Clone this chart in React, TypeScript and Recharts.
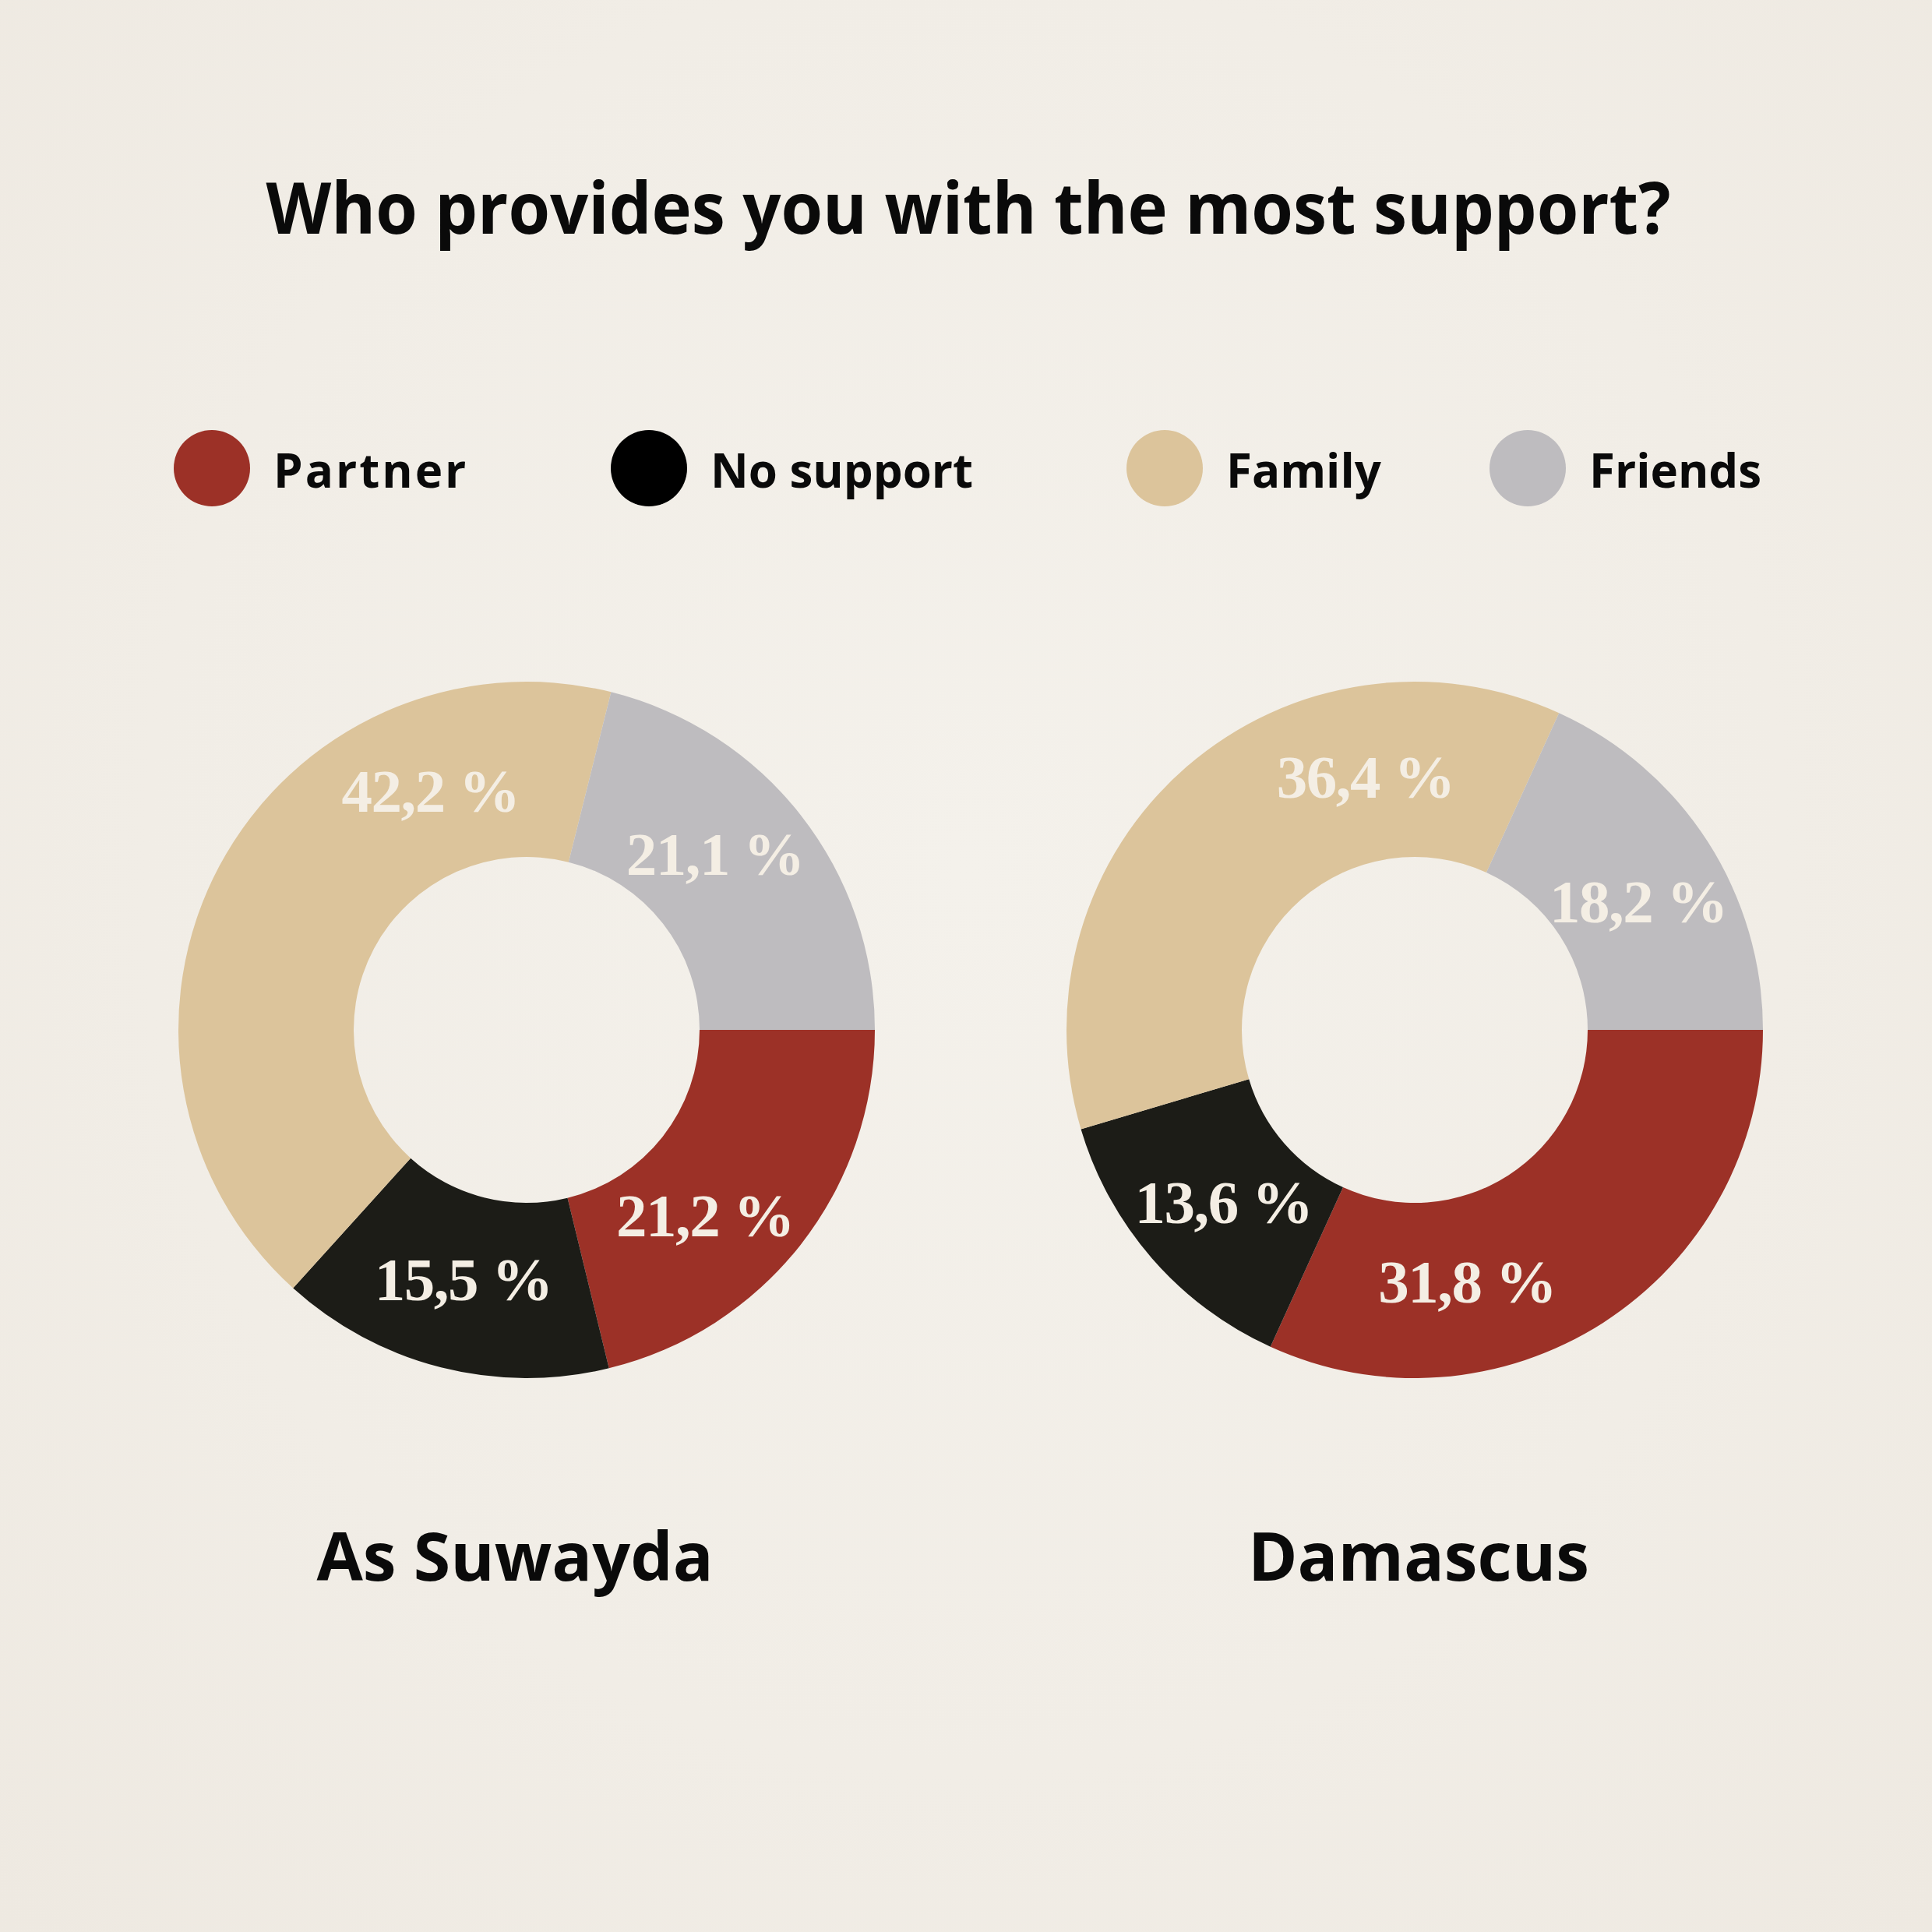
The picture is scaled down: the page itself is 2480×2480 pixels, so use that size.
import { PieChart, Pie, Cell } from 'recharts'

// categories and colours
const categories = ['Partner', 'No support', 'Family', 'Friends']
const colors = ['#9c3127', '#1c1c17', '#dcc49b', '#bebcbf']

// shares in percent, same order as categories
const suwayda = [21.2, 15.5, 42.2, 21.1]
const damascus = [31.8, 13.6, 36.4, 18.2]

const cities = ['As Suwayda', 'Damascus']

// labels in the source are not exactly at slice middles: nudge in degrees
const suwaydaNudge = [-8, 0, -40, 5]
const damascusNudge = [-21, 1, -30, -3]

const W = 2480
const H = 2480
const SANS = '"Open Sans", "Noto Sans", sans-serif'
const SERIF = '"Liberation Serif", "DejaVu Serif", serif'
const RAD = Math.PI / 180

const toRows = (values: number[]) =>
  categories.map((name, i) => ({ name, value: values[i] }))

function makeLabel(nudge: number[]) {
  return (props: any) => {
    const { cx, cy, midAngle, innerRadius, outerRadius, index, value } = props
    const r = (innerRadius + outerRadius) / 2 - 4
    const a = (midAngle + nudge[index]) * RAD
    const x = cx + r * Math.cos(a)
    const y = cy - r * Math.sin(a)
    return (
      <text
        x={x}
        y={y}
        textAnchor="middle"
        dominantBaseline="central"
        fill="#f4eee4"
        fontFamily={SERIF}
        fontWeight={700}
        fontSize={79}
        letterSpacing={-1.5}
      >
        {value.toFixed(1).replace('.', ',')} %
      </text>
    )
  }
}

const legendX = [272, 833, 1495, 1961]

export default function App() {
  return (
    <div
      style={{
        position: 'absolute',
        left: 0,
        top: 0,
        width: W,
        height: H,
        background: 'radial-gradient(ellipse at 50% 45%, #f4f1eb 0%, #f1ede6 60%, #eee9e1 100%)',
      }}
    >
      <PieChart width={W} height={H} margin={{ top: 0, right: 0, bottom: 0, left: 0 }}>
        <Pie
          data={toRows(suwayda)}
          dataKey="value"
          cx={676}
          cy={1322}
          innerRadius={222}
          outerRadius={447}
          startAngle={0}
          endAngle={-360}
          stroke="none"
          labelLine={false}
          label={makeLabel(suwaydaNudge)}
          isAnimationActive={false}
        >
          {categories.map((c, i) => (
            <Cell key={c} fill={colors[i]} />
          ))}
        </Pie>
        <Pie
          data={toRows(damascus)}
          dataKey="value"
          cx={1816}
          cy={1322}
          innerRadius={222}
          outerRadius={447}
          startAngle={0}
          endAngle={-360}
          stroke="none"
          labelLine={false}
          label={makeLabel(damascusNudge)}
          isAnimationActive={false}
        >
          {categories.map((c, i) => (
            <Cell key={c} fill={colors[i]} />
          ))}
        </Pie>
      </PieChart>

      <svg width={W} height={H} style={{ position: 'absolute', left: 0, top: 0, pointerEvents: 'none' }}>
        <text
          x={1243}
          y={300}
          textAnchor="middle"
          fontFamily={SANS}
          fontWeight={700}
          fontSize={92}
          textLength={1803}
          lengthAdjust="spacingAndGlyphs"
          fill="#0a0a0a"
        >
          Who provides you with the most support?
        </text>

        {categories.map((c, i) => (
          <g key={c}>
            <circle cx={legendX[i]} cy={601} r={49} fill={i === 1 ? '#000' : colors[i]} />
            <text
              x={legendX[i] + 79}
              y={626}
              fontFamily={SANS}
              fontWeight={700}
              fontSize={60}
              letterSpacing={i === 0 ? 3 : 0}
              fill="#0a0a0a"
            >
              {c}
            </text>
          </g>
        ))}

        <text x={661} y={2029} textAnchor="middle" fontFamily={SANS} fontWeight={700} fontSize={86} fill="#0a0a0a">
          {cities[0]}
        </text>
        <text x={1821} y={2029} textAnchor="middle" fontFamily={SANS} fontWeight={700} fontSize={86} fill="#0a0a0a">
          {cities[1]}
        </text>
      </svg>
    </div>
  )
}
